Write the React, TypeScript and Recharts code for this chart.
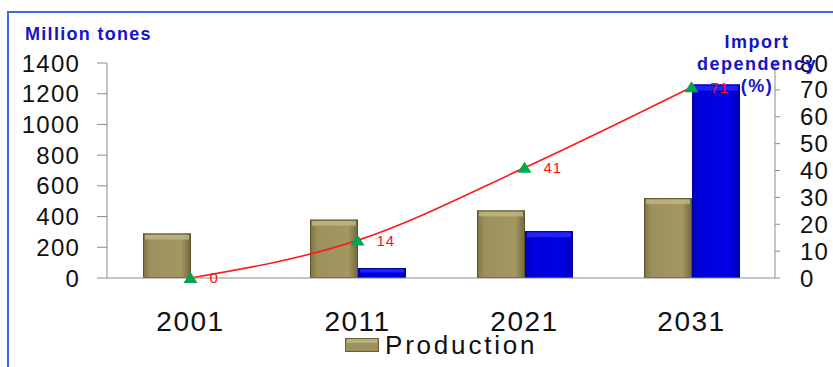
import React from 'react';
import { ComposedChart, Bar, Line, XAxis, YAxis, LabelList } from 'recharts';

const years = ['2001', '2011', '2021', '2031'];
const production = [290, 380, 440, 520];
const imports = [0, 65, 305, 1260];
const importDependency = [0, 14, 41, 71];
const leftTicks = [0, 200, 400, 600, 800, 1000, 1200, 1400];
const rightTicks = [0, 10, 20, 30, 40, 50, 60, 70, 80];
const edgeTicks = [0, 1, 2, 3, 4];

const data = years.map((year, i) => ({
  year,
  idx: i + 0.5,
  production: production[i],
  imports: imports[i],
  dependency: importDependency[i],
}));

const FONT = '"Liberation Sans", Arial, sans-serif';

// bevelled bar, roughly like the old office 3d look
function BevelBar(props: any) {
  const { x, y, width, height, tone } = props;
  if (!height || height <= 0) return null;
  const olive = tone === 'olive';
  const top = Math.min(5, height / 3);
  return (
    <g>
      <rect x={x} y={y} width={width} height={height} fill={olive ? 'url(#oliveSide)' : 'url(#blueSide)'} />
      <rect x={x + 2} y={y + 1} width={width - 4} height={top} fill={olive ? '#c2b884' : '#2b2bff'} opacity={0.8} />
      <rect
        x={x + 0.5}
        y={y + 0.5}
        width={width - 1}
        height={height - 1}
        fill="none"
        stroke={olive ? '#5c532e' : '#00009a'}
        strokeWidth={1}
      />
    </g>
  );
}

function Triangle(props: any) {
  const { cx, cy } = props;
  if (cx == null || cy == null) return null;
  return <path d={`M${cx},${cy - 6} L${cx + 7},${cy + 5} L${cx - 7},${cy + 5} Z`} fill="#00a651" />;
}

function DependencyLabel(props: any) {
  const { x, y, value } = props;
  return (
    <text x={x + 19} y={y} dy="0.36em" fill="#ff1010" fontSize={15} fontFamily={FONT} letterSpacing={1}>
      {value}
    </text>
  );
}

export default function App() {
  return (
    <div style={{ position: 'absolute', left: 0, top: 0, width: 833, height: 367, background: '#fff', overflow: 'hidden' }}>
      <div
        style={{
          position: 'absolute',
          left: 7,
          top: 11,
          width: 840,
          height: 370,
          borderTop: '2px solid #3d68ef',
          borderLeft: '2px solid #3d68ef',
        }}
      />
      <div
        style={{
          position: 'absolute',
          left: 25,
          top: 24,
          color: '#1414c8',
          fontFamily: FONT,
          fontWeight: 'bold',
          fontSize: 18,
          letterSpacing: 1.3,
        }}
      >
        Million tones
      </div>
      <div
        style={{
          position: 'absolute',
          left: 690,
          top: 31,
          width: 134,
          textAlign: 'center',
          color: '#1414c8',
          fontFamily: FONT,
          fontWeight: 'bold',
          fontSize: 18,
          lineHeight: '22px',
          letterSpacing: 1.5,
          zIndex: 2,
        }}
      >
        Import
        <br />
        dependency
        <br />
        (%)
      </div>
      <ComposedChart
        width={833}
        height={367}
        data={data}
        margin={{ top: 63, right: 3, left: 7, bottom: 29 }}
        barGap={0}
        barCategoryGap="21%"
        style={{ fontFamily: FONT }}
      >
        <defs>
          <linearGradient id="oliveSide" x1="0" y1="0" x2="1" y2="0">
            <stop offset="0%" stopColor="#7d7246" />
            <stop offset="15%" stopColor="#9c905d" />
            <stop offset="80%" stopColor="#a39762" />
            <stop offset="100%" stopColor="#70663c" />
          </linearGradient>
          <linearGradient id="blueSide" x1="0" y1="0" x2="1" y2="0">
            <stop offset="0%" stopColor="#0000b4" />
            <stop offset="15%" stopColor="#0000dc" />
            <stop offset="80%" stopColor="#0000e4" />
            <stop offset="100%" stopColor="#0000a8" />
          </linearGradient>
        </defs>
        <XAxis
          xAxisId="edges"
          dataKey="idx"
          type="number"
          domain={[0, 4]}
          ticks={edgeTicks}
          allowDataOverflow
          tick={false}
          tickSize={8}
          tickLine={{ stroke: '#8c8c8c' }}
          axisLine={false}
          height={0}
        />
        <XAxis
          dataKey="year"
          tickLine={false}
          tickSize={0}
          tickMargin={33}
          height={60}
          axisLine={{ stroke: '#8c8c8c' }}
          tick={{ fontSize: 28, fill: '#111', letterSpacing: 1.5 }}
        />
        <YAxis
          yAxisId="left"
          width={100}
          domain={[0, 1400]}
          ticks={leftTicks}
          interval={0}
          tickSize={10}
          tickMargin={17}
          axisLine={{ stroke: '#8c8c8c' }}
          tickLine={{ stroke: '#8c8c8c' }}
          tick={{ fontSize: 24, fill: '#111', letterSpacing: 1.2 }}
        />
        <YAxis
          yAxisId="right"
          orientation="right"
          width={55}
          domain={[0, 80]}
          ticks={rightTicks}
          interval={0}
          tickSize={5}
          tickMargin={20}
          axisLine={{ stroke: '#8c8c8c' }}
          tickLine={{ stroke: '#8c8c8c' }}
          tick={{ fontSize: 24, fill: '#111', letterSpacing: 1.2 }}
        />
        <Bar
          yAxisId="left"
          dataKey="production"
          name="Production"
          barSize={48}
          shape={(p: any) => <BevelBar {...p} tone="olive" />}
          isAnimationActive={false}
        />
        <Bar
          yAxisId="left"
          dataKey="imports"
          name="Imports"
          barSize={48}
          shape={(p: any) => <BevelBar {...p} tone="blue" />}
          isAnimationActive={false}
        />
        <Line
          yAxisId="right"
          dataKey="dependency"
          type="monotone"
          stroke="#ff1a1a"
          strokeWidth={1.6}
          dot={<Triangle />}
          activeDot={false}
          isAnimationActive={false}
        >
          <LabelList dataKey="dependency" content={<DependencyLabel />} />
        </Line>
      </ComposedChart>
      <div
        style={{
          position: 'absolute',
          left: 345,
          top: 335,
          height: 20,
          display: 'flex',
          alignItems: 'center',
          fontFamily: FONT,
          fontSize: 26,
          lineHeight: '20px',
          letterSpacing: 2.8,
          color: '#111',
        }}
      >
        <svg width={34} height={14} style={{ marginRight: 6 }}>
          <rect x={0} y={0} width={34} height={14} fill="#6a6038" />
          <rect x={1} y={1} width={32} height={12} fill="#9c905d" />
          <rect x={2} y={1} width={30} height={4} fill="#c2b884" opacity={0.8} />
        </svg>
        Production
      </div>
    </div>
  );
}
